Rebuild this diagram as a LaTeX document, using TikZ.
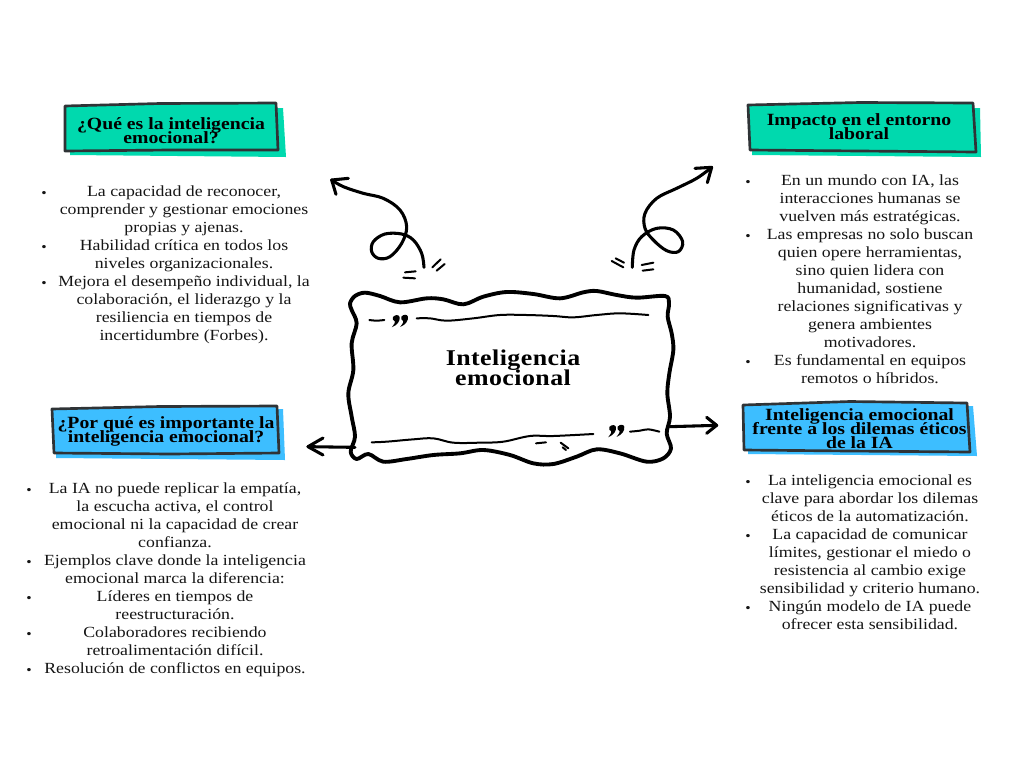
\documentclass[tikz,border=0pt]{standalone}
\usepackage{fontspec}
\setmainfont[FakeStretch=1.15]{Liberation Serif}
\newfontfamily\corefont[FakeStretch=1.15,LetterSpace=2]{Liberation Serif}
\definecolor{framecol}{HTML}{2F3336}
\definecolor{mint}{HTML}{00D9AE}
\definecolor{sky}{HTML}{3DBEFF}
\definecolor{bodytext}{HTML}{151515}
\newcommand{\tightlines}{\lineskiplimit=-20pt\relax\lineskip=0pt\relax}
\tikzset{
  bodyblock/.style={font=\fontsize{11.6pt}{13.5pt}\selectfont,align=center,text=bodytext,inner sep=0pt,anchor=center},
  bulletmark/.style={font=\fontsize{10pt}{13pt}\selectfont,text=bodytext,inner sep=0pt,anchor=center},
  headtext/.style={font=\fontsize{12.85pt}{10.5pt}\selectfont\bfseries,execute at begin node=\tightlines,align=center,text=black,inner sep=0pt,anchor=center},
  maintext/.style={font=\corefont\fontsize{16.9pt}{15pt}\selectfont\bfseries,execute at begin node=\tightlines,align=center,text=black,inner sep=0pt,anchor=center},
  headframe/.style={draw=framecol,line width=2pt,line join=round},
  sketch/.style={draw=black,line width=2.3pt,line cap=round,line join=round},
  thinsketch/.style={draw=black,line width=1.5pt,line cap=round,line join=round},
  thick frame/.style={draw=black,line width=2.9pt,line cap=round,line join=round},
}
\newcommand{\quotemark}[2]{%
  \fill[black,shift={(#1,#2)},scale=2.2] (0,0) .. controls (3,-3.5) and (8,-3.5) .. (9,0) .. controls (10,5) and (6,11) .. (-1.5,14) .. controls (2,9) and (3.5,7) .. (2.6,6) .. controls (0,5.5) and (-1,2) .. (0,0) -- cycle;
  \fill[black,shift={(#1+25,#2-1)},scale=2.2] (0,0) .. controls (3,-3.5) and (8,-3.5) .. (9,0) .. controls (10,5) and (6,11) .. (-1.5,14) .. controls (2,9) and (3.5,7) .. (2.6,6) .. controls (0,5.5) and (-1,2) .. (0,0) -- cycle;}
\begin{document}
\begin{tikzpicture}[x=0.75pt,y=-0.75pt]
\useasboundingbox[fill=white] (0,0) rectangle (1024,768);

% header boxes
\fill[mint] (72,112) -- (283,108) -- (286,157) -- (70,155) -- cycle;
\draw[headframe,fill=mint] (65,106) -- (160,103.5) -- (276,103) -- (278,150) -- (170,150) -- (65,151) -- cycle;
\node[headtext] (h1) at (171,131) {¿Qué es la inteligencia\\emocional?};

\fill[mint] (755,110) -- (980,108) -- (981,157) -- (752,155) -- cycle;
\draw[headframe,fill=mint] (748,105) -- (860,102.5) -- (973,103) -- (976,152) -- (860,151) -- (750,150) -- cycle;
\node[headtext] (h2) at (859,127) {Impacto en el entorno\\laboral};

\fill[sky] (58,412) -- (283,409) -- (285,460) -- (56,458) -- cycle;
\draw[headframe,fill=sky] (52,409) -- (160,406.5) -- (277,406) -- (279,453) -- (170,454) -- (54,453) -- cycle;
\node[headtext] (h3) at (166,431.5) {¿Por qué es importante la\\inteligencia emocional?};

\fill[sky] (750,408) -- (973,406) -- (977,456) -- (748,454) -- cycle;
\draw[headframe,fill=sky] (743,405) -- (850,401.5) -- (967,403) -- (970,452) -- (850,451) -- (744,450) -- cycle;
\node[headtext] (h4) at (859.5,429) {Inteligencia emocional\\frente a los dilemas éticos\\de la IA};

% body texts
\node[bodyblock] (b1) at (184,265) {La capacidad de reconocer,\\comprender y gestionar emociones\\propias y ajenas.\\Habilidad crítica en todos los\\niveles organizacionales.\\Mejora el desempeño individual, la\\colaboración, el liderazgo y la\\resiliencia en tiempos de\\incertidumbre (Forbes).};
\foreach \n/\yy in {a/191,b/245,c/281}{\node[bulletmark] (b1\n) at (44,\yy+3) {•};}

\node[bodyblock] (b2) at (870,279) {En un mundo con IA, las\\interacciones humanas se\\vuelven más estratégicas.\\Las empresas no solo buscan\\quien opere herramientas,\\sino quien lidera con\\humanidad, sostiene\\relaciones significativas y\\genera ambientes\\motivadores.\\Es fundamental en equipos\\remotos o híbridos.};
\foreach \n/\yy in {a/180,b/234,c/360}{\node[bulletmark] (b2\n) at (748,\yy+3) {•};}

\node[bodyblock] (b3) at (175,580) {La IA no puede replicar la empatía,\\la escucha activa, el control\\emocional ni la capacidad de crear\\confianza.\\Ejemplos clave donde la inteligencia\\emocional marca la diferencia:\\Líderes en tiempos de\\reestructuración.\\Colaboradores recibiendo\\retroalimentación difícil.\\Resolución de conflictos en equipos.};
\foreach \n/\yy in {a/488,b/560,c/596,d/632,e/668}{\node[bulletmark] (b3\n) at (29,\yy+3) {•};}

\node[bodyblock] (b4) at (870,552) {La inteligencia emocional es\\clave para abordar los dilemas\\éticos de la automatización.\\La capacidad de comunicar\\límites, gestionar el miedo o\\resistencia al cambio exige\\sensibilidad y criterio humano.\\Ningún modelo de IA puede\\ofrecer esta sensibilidad.};
\foreach \n/\yy in {a/480,b/534,c/606}{\node[bulletmark] (b4\n) at (748,\yy+3) {•};}

\node[maintext] (core) at (513,368) {Inteligencia\\emocional};

% sketch drawn in zoom coordinates (1/3 px)
\begin{scope}[shift={(320,160)},x=0.25pt,y=-0.25pt]
\draw[thick frame] plot[smooth cycle,tension=0.55] coordinates {
 (90,430) (105,408) (135,398) (180,408) (240,427) (320,415) (370,418) (430,433) (490,410) (560,396) (640,402) (720,415) (790,397) (830,393) (890,405) (950,413) (1035,408) (1047,430) (1043,470) (1055,520) (1060,570) (1048,640) (1042,700) (1050,770) (1040,820) (1053,865) (1030,895) (980,905) (900,880) (830,868) (770,890) (700,912) (640,910) (570,885) (490,870) (420,880) (340,885) (260,897) (190,905) (145,882) (110,897) (92,875) (105,830) (95,770) (85,700) (100,630) (95,550) (110,490) (95,450)};
% inner strokes
\draw[thinsketch] plot[smooth,tension=0.6] coordinates {(290,475) (330,475) (380,482) (460,475) (540,465) (620,465) (700,468) (760,472) (830,465) (900,460) (985,465)};
\draw[thinsketch] plot[smooth,tension=0.6] coordinates {(148,480) (170,482) (193,480)};
\draw[thinsketch] plot[smooth,tension=0.6] coordinates {(155,847) (200,845) (280,838) (340,835) (400,848) (480,848) (550,845) (630,828) (700,828) (820,822)};
\draw[thinsketch] plot[smooth,tension=0.6] coordinates {(930,815) (960,812) (985,808) (1018,815)};
\draw[thinsketch] (648,850) -- (678,847);
\draw[thinsketch] (722,848) -- (745,865);
\draw[thinsketch] (728,862) -- (738,870);
% quotes
\quotemark{219}{471}
\quotemark{868}{801}
% arrows
\coordinate (tipL) at (35,60);
\coordinate (tipR) at (1175,22);
\coordinate (tipE) at (1190,796);
\coordinate (tipW) at (-36,860);
\coordinate (startL) at (312,322);
\coordinate (startR) at (937,322);
\coordinate (startE) at (1050,800);
\coordinate (startW) at (105,862);
\draw[sketch] plot[smooth,tension=0.6] coordinates {(startL) (305,280) (280,240) (245,222) (195,222) (160,245) (155,275) (175,295) (210,290) (245,250) (260,200) (240,150) (190,115) (130,100) (70,80) (tipL)};
\draw[sketch] (85,55) -- (tipL) -- (48,103);
\draw[sketch] plot[smooth,tension=0.6] coordinates {(startR) (942,270) (965,230) (1010,205) (1060,210) (1088,245) (1075,275) (1040,272) (1000,240) (975,205) (975,160) (1010,115) (1070,85) (1130,55) (tipR)};
\draw[sketch] (1125,25) -- (tipR) -- (1162,68);
\draw[sketch] (startE) -- (tipE);
\draw[sketch] (1160,772) -- (tipE) -- (1160,820);
\draw[sketch] (startW) -- (tipW);
\draw[sketch] (9,834) -- (tipW) -- (9,885);
% spark marks
\draw[thinsketch] (255,337) -- (287,334);
\draw[thinsketch] (250,353) -- (285,355);
\draw[thinsketch] (337,322) -- (362,298);
\draw[thinsketch] (350,332) -- (374,312);
\draw[thinsketch] (875,303) -- (910,322);
\draw[thinsketch] (887,295) -- (912,308);
\draw[thinsketch] (965,315) -- (1000,308);
\draw[thinsketch] (968,332) -- (1000,328);
\end{scope}
\end{tikzpicture}
\end{document}
